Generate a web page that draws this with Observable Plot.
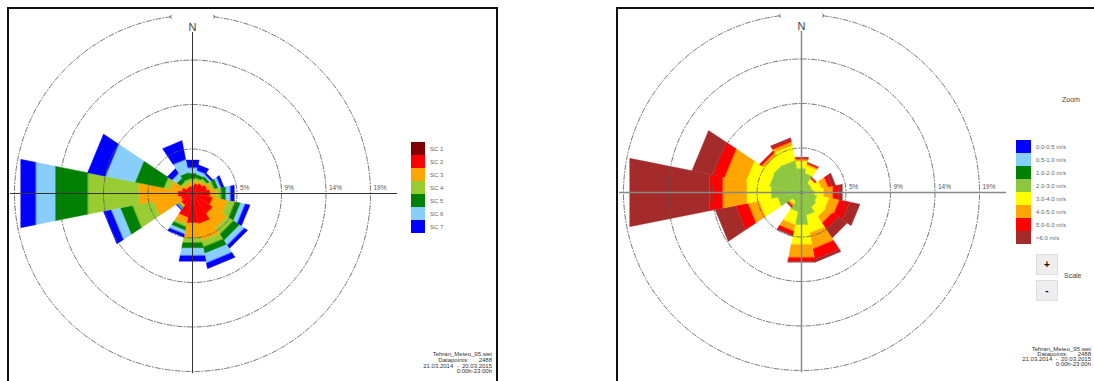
<!DOCTYPE html>
<html>
<head>
<meta charset="utf-8">
<script src="https://cdn.jsdelivr.net/npm/d3@7"></script>
<script src="https://cdn.jsdelivr.net/npm/@observablehq/plot@0.6"></script>
<style>
  body { margin: 0; width: 1094px; height: 381px; overflow: hidden; position: relative; background: #fff;
         font-family: "Liberation Sans", Arial, sans-serif; }
  .panel { position: absolute; top: 7px; height: 380px; border: 2px solid #111; border-bottom: none; box-sizing: border-box; }
  .chart { position: absolute; top: 9px; }
  .legend { position: absolute; }
  .legend .row { display: flex; align-items: center; height: 13px; }
  .legend .sw { flex: none; height: 13px; }
  .legend .lab { font-size: 6px; color: #666; margin-left: 5px; white-space: nowrap; }
  .info { position: absolute; font-size: 6px; color: #333; text-align: right; white-space: pre; }
  .btn { position: absolute; width: 22px; height: 21px; background: #eee; border: 1px solid #ddd; box-sizing: border-box;
         font: bold 10px "Liberation Sans", Arial, sans-serif; color: #111; text-align: center; line-height: 19px; }
  .small { position: absolute; font-size: 7px; color: #444; }
</style>
</head>
<body>
<div class="panel" style="left:7px;width:491px"></div>
<div class="panel" style="left:616px;width:490px"></div>
<div id="left" class="chart" style="left:9px"></div>
<div id="right" class="chart" style="left:618px"></div>
<div id="legendLeft" class="legend" style="left:411px;top:142px"></div>
<div id="legendRight" class="legend" style="left:1016px;top:140px"></div>
<div class="small" style="left:1062px;top:96px">Zoom</div>
<div class="btn" style="left:1036px;top:254px">+</div>
<div class="btn" style="left:1036px;top:280px">-</div>
<div class="small" style="left:1064px;top:272px">Scale</div>
<div class="info" style="right:602px;top:352px;line-height:5.8px">Tehran_Meteo_95.wet
Datapoints:      2488
21.03.2014  -  20.03.2015
0:00h-23:00h</div>
<div class="info" style="right:3px;top:347px;line-height:5px">Tehran_Meteo_95.wet
Datapoints:      2488
21.03.2014  -  20.03.2015
0:00h-23:00h</div>
<script>
// 16 compass sectors (degrees clockwise from north)
const directions = [0, 22.5, 45, 67.5, 90, 112.5, 135, 157.5, 180, 202.5, 225, 247.5, 270, 292.5, 315, 337.5];
// N, NNE, NE, ENE, E, ESE, SE, SSE, S, SSW, SW, WSW, W, WNW, NW, NNW

// Frequency rings (% of all records)
const rings = [4.7, 9.4, 14.1, 18.8];

// ---- Left rose: stability classes, frequency % per sector ----
const scClasses = ["SC 1", "SC 2", "SC 3", "SC 4", "SC 5", "SC 6", "SC 7"];
const scColors  = ["#800000", "#ff0000", "#ffa500", "#99cc33", "#008000", "#87cefa", "#0000ff"];
const sc1 = [0.1, 0.1, 0.1, 0.1, 0.1, 0.1, 0.1, 0.1, 0.1, 0.1, 0.1, 0.1, 0.1, 0.1, 0.1, 0.1];
const sc2 = [0.7, 1.0, 1.2, 1.5, 1.8, 2.1, 2.5, 3.2, 3.1, 2.5, 1.4, 1.2, 1.5, 1.1, 0.7, 0.7];
const sc3 = [0.4, 0.3, 0.3, 0.4, 0.7, 1.6, 1.8, 1.8, 1.6, 0.7, 0.2, 2.9, 4.2, 1.2, 0.4, 0.4];
const sc4 = [0.4, 0.3, 0.3, 0.4, 0.5, 0.8, 0.8, 0.7, 0.5, 0.3, 0.1, 2.3, 5.5, 0.7, 0.3, 0.4];
const sc5 = [0.6, 0.4, 0.3, 0.4, 0.5, 0.6, 0.8, 0.7, 0.6, 0.4, 0.1, 1.3, 3.5, 3.1, 0.5, 0.7];
const sc6 = [0.6, 0.4, 0.2, 0.3, 0.5, 0.5, 0.6, 1.0, 0.8, 0.4, 0.1, 1.0, 2.1, 3.2, 0.6, 1.4];
const sc7 = [0.8, 0.6, 0.2, 0.3, 0.4, 0.5, 0.4, 0.6, 0.6, 0.3, 0.1, 0.8, 1.6, 1.9, 0.6, 2.0];

// ---- Right rose: wind speed classes, frequency % per sector ----
const speedClasses = ["0.0-0.5 m/s", "0.5-1.0 m/s", "1.0-2.0 m/s", "2.0-3.0 m/s",
                      "3.0-4.0 m/s", "4.0-5.0 m/s", "5.0-6.0 m/s", ">6.0 m/s"];
const speedColors  = ["#0000ff", "#87cefa", "#008000", "#8dc63f", "#ffff00", "#ffa500", "#ff0000", "#a52a2a"];
const ws1 = [0.05, 0.05, 0.05, 0.05, 0.05, 0.05, 0.05, 0.05, 0.05, 0.05, 0.05, 0.05, 0.05, 0.05, 0.05, 0.05];
const ws2 = [0.05, 0.05, 0.05, 0.05, 0.05, 0.05, 0.05, 0.05, 0.05, 0.05, 0.05, 0.05, 0.05, 0.05, 0.05, 0.05];
const ws3 = [0.1, 0.1, 0.1, 0.1, 0.1, 0.1, 0.1, 0.1, 0.1, 0.1, 0.1, 0.1, 0.1, 0.1, 0.1, 0.1];
const ws4 = [2.4, 1.9, 1.0, 1.0, 1.2, 1.5, 1.7, 2.3, 3.3, 1.9, 1.0, 2.4, 3.1, 3.3, 3.4, 3.3];
const ws5 = [0.8, 0.8, 0.5, 1.0, 1.0, 1.3, 1.2, 1.9, 2.1, 1.4, 0.3, 2.0, 2.6, 2.5, 1.2, 1.6];
const ws6 = [0.2, 0.2, 0.1, 0.7, 1.0, 1.1, 0.8, 1.7, 1.4, 0.7, 0.2, 1.2, 2.6, 2.3, 0.3, 0.4];
const ws7 = [0.1, 0.1, 0.1, 0.4, 0.6, 1.1, 0.8, 1.1, 0.4, 0.4, 0.1, 1.3, 1.4, 1.3, 0.2, 0.2];
const ws8 = [0.1, 0.05, 0.05, 0.4, 0.4, 1.1, 1.1, 0.3, 0.1, 0.1, 0.1, 2.2, 8.6, 2.2, 0.05, 0.2];

const RING_PX = 44.5;                 // on-screen spacing between frequency rings
const PX = RING_PX / rings[0];        // pixels per percent
const rad = (deg) => deg * Math.PI / 180;

// Stacked sector polygons, one per direction and class
function wedgeRows(series, classes) {
  const half = 180 / directions.length;
  const rows = [];
  directions.forEach((dir, i) => {
    let r0 = 0;
    classes.forEach((cls, k) => {
      const r1 = r0 + series[k][i];
      const a0 = rad(dir - half), a1 = rad(dir + half);
      const id = dir + "|" + k;
      for (const [r, a] of [[r0, a0], [r1, a0], [r1, a1], [r0, a1]]) {
        rows.push({id, cls, x: r * Math.sin(a), y: r * Math.cos(a)});
      }
      r0 = r1;
    });
  });
  return rows;
}

// Dashed frequency rings; the outermost one is open at north with arrow tips
function ringRows() {
  const rows = [];
  const outer = rings[rings.length - 1];
  rings.slice(0, -1).forEach((r) => {
    for (let a = 0; a <= 360; a += 2) rows.push({ring: "r" + r, x: r * Math.sin(rad(a)), y: r * Math.cos(rad(a))});
  });
  for (let a = 7; a <= 180; a += 1) rows.push({ring: "east", x: outer * Math.sin(rad(a)), y: outer * Math.cos(rad(a))});
  for (let a = -7; a >= -180; a -= 1) rows.push({ring: "west", x: outer * Math.sin(rad(a)), y: outer * Math.cos(rad(a))});
  return rows;
}

function rose({series, classes, colors, width, height, cx, cy, axisColor, axisWidth}) {
  const outer = rings[rings.length - 1];
  const rr = ringRows();
  return Plot.plot({
    width, height, margin: 0,
    x: {axis: null, domain: [-cx / PX, (width - cx) / PX], range: [0, width]},
    y: {axis: null, domain: [-(height - cy) / PX, cy / PX], range: [height, 0]},
    color: {domain: classes, range: colors},
    style: {background: "transparent", fontFamily: "'Liberation Sans', Arial, sans-serif", overflow: "visible"},
    marks: [
      Plot.line(wedgeRows(series, classes), {x: "x", y: "y", z: "id", fill: "cls", stroke: "cls",
        strokeWidth: 0.4, curve: "linear-closed"}),
      Plot.line(rr.filter(d => d.ring[0] === "r"), {x: "x", y: "y", z: "ring", stroke: "#555",
        strokeWidth: 0.8, strokeDasharray: "5,2,1,2"}),
      Plot.line(rr.filter(d => d.ring[0] !== "r"), {x: "x", y: "y", z: "ring", stroke: "#555",
        strokeWidth: 0.8, strokeDasharray: "5,2,1,2", markerStart: "arrow"}),
      Plot.ruleY([0], {x1: -outer * 1.022, x2: outer * 1.152, stroke: axisColor, strokeWidth: axisWidth}),
      Plot.ruleX([0], {y1: -outer * 1.012, y2: outer * 0.905, stroke: axisColor, strokeWidth: axisWidth}),
      Plot.text(rings, {x: d => d, y: 0, dx: 3, dy: -6, textAnchor: "start", text: d => Math.round(d) + "%",
        fontSize: 6.5, fill: "#555"}),
      Plot.text(["N"], {x: 0, y: outer, dy: 12, text: d => d, fontSize: 11, fill: "#444"})
    ]
  });
}

const left = rose({series: [sc1, sc2, sc3, sc4, sc5, sc6, sc7], classes: scClasses, colors: scColors,
  width: 486, height: 372, cx: 183, cy: 184, axisColor: "#333", axisWidth: 1});
document.getElementById("left").append(left);

const right = rose({series: [ws1, ws2, ws3, ws4, ws5, ws6, ws7, ws8], classes: speedClasses, colors: speedColors,
  width: 476, height: 372, cx: 183, cy: 183, axisColor: "#888", axisWidth: 1.5});
document.getElementById("right").append(right);

// Vertical swatch legends built from each chart's color scale
function legend(id, chart, swatchWidth) {
  const scale = chart.scale("color");
  const box = document.getElementById(id);
  scale.domain.forEach((label, i) => {
    const row = document.createElement("div");
    row.className = "row";
    const sw = document.createElement("div");
    sw.className = "sw";
    sw.style.width = swatchWidth + "px";
    sw.style.background = scale.range[i];
    const lab = document.createElement("div");
    lab.className = "lab";
    lab.textContent = label;
    row.append(sw, lab);
    box.append(row);
  });
}
legend("legendLeft", left, 14);
legend("legendRight", right, 15);
</script>
</body>
</html>
